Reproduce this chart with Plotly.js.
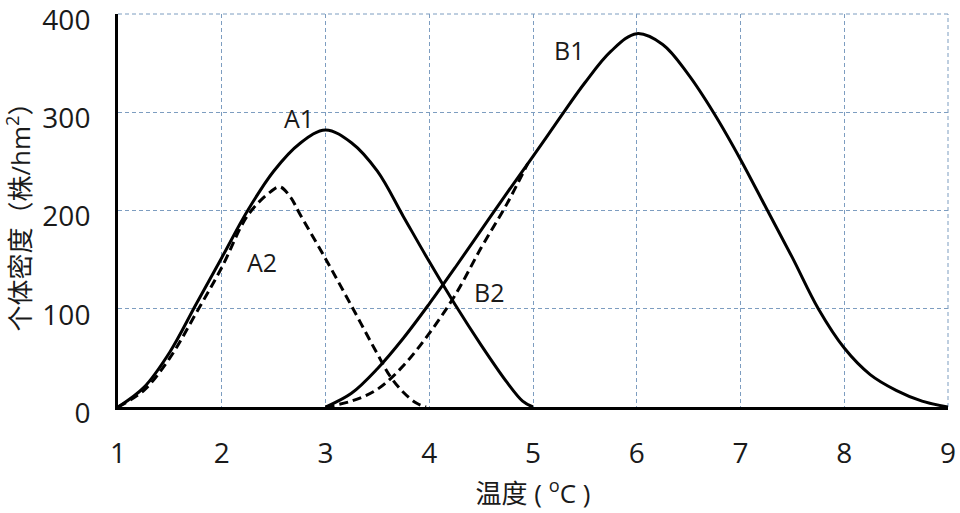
<!DOCTYPE html>
<html>
<head>
<meta charset="utf-8">
<script src="https://cdn.plot.ly/plotly-3.0.1.min.js"></script>
<style>
  html, body { margin: 0; padding: 0; background: #fff; }
  #chart { width: 960px; height: 513px; }
</style>
</head>
<body>
<div id="chart"></div>
<script>
// curve A1 (solid)
var a1X = [1, 1.25, 1.5, 1.75, 2, 2.25, 2.5, 2.75, 3, 3.25, 3.5, 3.75, 4, 4.25, 4.5, 4.75, 4.9, 5];
var a1Y = [0, 20, 56, 104, 152, 200, 240, 268, 282, 269, 240, 194, 148, 104, 63, 25, 6, 0];

// curve A2 (dashed)
var a2X = [1, 1.25, 1.5, 1.75, 2, 2.25, 2.47, 2.56, 2.66, 2.75, 3, 3.25, 3.5, 3.625, 3.75, 3.875, 3.97];
var a2Y = [0, 17, 50, 95, 142, 195, 219, 224, 214, 197, 151, 103, 54, 31, 15, 4, 0];

// curve B1 (solid)
var b1X = [3, 3.25, 3.5, 3.75, 4, 4.25, 4.5, 4.75, 5, 5.25, 5.5, 5.75, 6, 6.25, 6.5, 6.75, 7, 7.25, 7.5, 7.75, 8, 8.25, 8.5, 8.75, 9];
var b1Y = [0, 14, 39, 70, 105, 142, 180, 218, 255, 293, 330, 362, 380, 369, 338, 298, 252, 202, 152, 100, 60, 33, 17, 6, 0];

// curve B2 (dashed)
var b2X = [3, 3.25, 3.5, 3.75, 4, 4.25, 4.5, 4.75, 4.95];
var b2Y = [0, 6, 18, 42, 75, 114, 162, 207, 248];

var curveNames = ['A1', 'A2', 'B1', 'B2'];

var font = '"Open Sans", "Noto Sans CJK SC", sans-serif';
var txtColor = '#1a1a1a';
var gridColor = '#7d9dc0';

function curve(x, y, name, dash) {
  return {
    x: x,
    y: y,
    name: name,
    type: 'scatter',
    mode: 'lines',
    line: {color: '#000', width: 3, shape: 'spline', smoothing: 1, dash: dash},
    hoverinfo: 'x+y+name'
  };
}

var data = [
  curve(a1X, a1Y, curveNames[0], 'solid'),
  curve(a2X, a2Y, curveNames[1], '9px,5px'),
  curve(b1X, b1Y, curveNames[2], 'solid'),
  curve(b2X, b2Y, curveNames[3], '9px,5px')
];

// label spots, in data units
var labelX = [2.74, 2.39, 5.35, 4.58];
var labelY = [294, 148, 363, 117];

var annotations = curveNames.map(function (n, i) {
  return {
    x: labelX[i], y: labelY[i], text: n, showarrow: false,
    font: {family: font, size: 25, color: txtColor}
  };
});

var gridStyle = {
  showgrid: true,
  gridcolor: gridColor,
  gridwidth: 1,
  griddash: '4px,3px',
  showline: true,
  linecolor: '#000',
  linewidth: 3,
  zeroline: false,
  ticks: 'outside',
  tickcolor: 'rgba(0,0,0,0)',
  automargin: false,
  ticklabeloverflow: 'allow',
  tickfont: {family: font, size: 28, color: txtColor}
};

// dashed frame on the top and right edges
var frame = [
  {type: 'line', xref: 'paper', yref: 'paper', x0: 0, x1: 1, y0: 1, y1: 1},
  {type: 'line', xref: 'paper', yref: 'paper', x0: 1, x1: 1, y0: 0, y1: 1}
].map(function (s) {
  s.line = {color: gridColor, width: 1, dash: '4px,3px'};
  s.layer = 'below';
  return s;
});

var layout = {
  width: 960,
  height: 513,
  margin: {l: 118, r: 12, t: 14, b: 106},
  paper_bgcolor: '#fff',
  plot_bgcolor: '#fff',
  showlegend: false,
  font: {family: font, color: txtColor},
  xaxis: Object.assign({}, gridStyle, {
    range: [1, 9],
    tick0: 1,
    dtick: 1,
    ticklen: 19,
    title: {text: '温度 ( <sup>o</sup>C )', font: {family: font, size: 26, color: txtColor}, standoff: 16}
  }),
  yaxis: Object.assign({}, gridStyle, {
    range: [0, 400],
    tick0: 0,
    dtick: 100,
    ticklen: 19,
    ticklabelshift: 6,
    title: {text: '个体密度（株/hm<sup>2</sup>）', font: {family: font, size: 26, color: txtColor}, standoff: 10}
  }),
  shapes: frame,
  annotations: annotations
};

Plotly.newPlot('chart', data, layout, {displayModeBar: false, staticPlot: true});
</script>
</body>
</html>
